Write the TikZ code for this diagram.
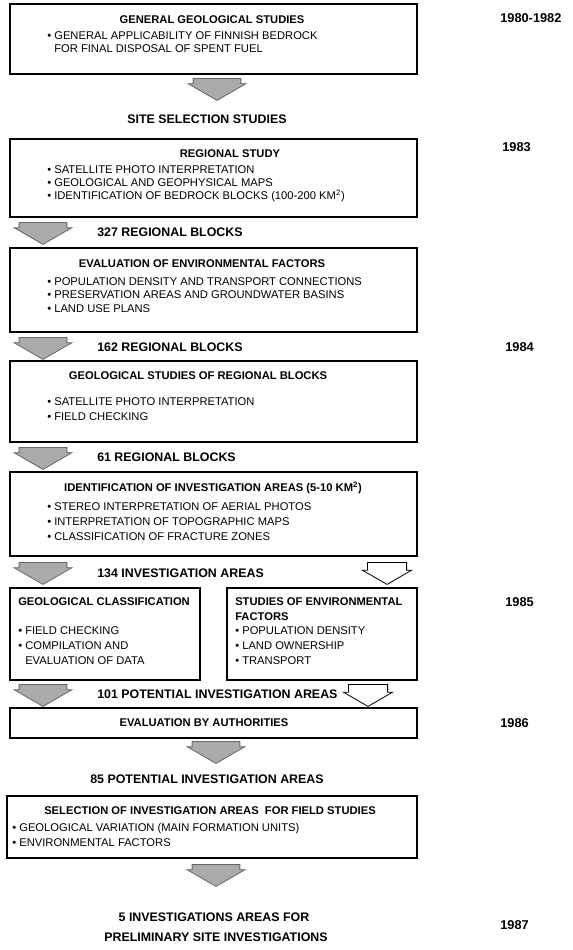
\documentclass[tikz,border=0pt]{standalone}
\usepackage{fontspec}
\setmainfont{Liberation Sans}
\usetikzlibrary{shapes.arrows,fit}

\begin{document}
\begin{tikzpicture}[
    x=0.75pt, y=-0.75pt,
    panel/.style={draw=black, line width=0.9pt, inner sep=0pt},
    ttl/.style={inner sep=0pt, font=\fontsize{8.4}{10}\selectfont\bfseries},
    item/.style={inner sep=0pt, anchor=west, font=\fontsize{8.4}{10}\selectfont},
    lbl/.style={inner sep=0pt, anchor=west, font=\fontsize{9.3}{11}\selectfont\bfseries},
    yr/.style={inner sep=0pt, anchor=west, font=\fontsize{9.6}{11}\selectfont\bfseries},
    blkarrow/.style={single arrow, rotate=-90, anchor=tail, inner xsep=0pt, inner ysep=17.6pt,
        line width=0.6pt, minimum width=42.75pt, minimum height=16.5pt,
        single arrow head extend=3.75pt, single arrow tip angle=120},
    fillarrow/.style={blkarrow, draw=black!60, fill=black!33},
    openarrow/.style={blkarrow, draw=black, fill=white, inner ysep=14.4pt, minimum width=36.3pt},
  ]
    \useasboundingbox (0,0) rectangle (572,950);

    % general studies
    \node[panel, fit={(10,4) (417,74)}] (b1) {};
    \node[ttl] (t1) at (212,20) {GENERAL GEOLOGICAL STUDIES};
    \node[item] (i1-1) at (47,36) {• GENERAL APPLICABILITY OF FINNISH BEDROCK};
    \node[item] (i1-2) at (54,49) {FOR FINAL DISPOSAL OF SPENT FUEL};
    \node[yr] (y1) at (500,18) {1980-1982};
    \node[fillarrow] (a1) at (217,78) {};
    \node[lbl, anchor=center] (sss) at (207,119) {SITE SELECTION STUDIES};

    % regional study
    \node[panel, fit={(10,139) (417,217)}] (b2) {};
    \node[ttl] (t2) at (230,154) {REGIONAL STUDY};
    \foreach \txt [count=\k] in {SATELLITE PHOTO INTERPRETATION, GEOLOGICAL AND GEOPHYSICAL MAPS,
        {IDENTIFICATION OF BEDROCK BLOCKS (100-200 KM\textsuperscript{2})}}
      \node[item] (i2-\k) at (47,157+13*\k) {• \txt};
    \node[yr] (y2) at (502,147) {1983};
    \node[fillarrow] (a327) at (43,222) {};
    \node[lbl] (l327) at (97,232) {327 REGIONAL BLOCKS};

    % environmental factors
    \node[panel, fit={(10,248) (417,332)}] (b3) {};
    \node[ttl] (t3) at (202,264) {EVALUATION OF ENVIRONMENTAL FACTORS};
    \foreach \txt [count=\k] in {POPULATION DENSITY AND TRANSPORT CONNECTIONS,
        PRESERVATION AREAS AND GROUNDWATER BASINS, LAND USE PLANS}
      \node[item] (i3-\k) at (47,268+13.5*\k) {• \txt};
    \node[fillarrow] (a162) at (43,337) {};
    \node[lbl] (l162) at (97,347) {162 REGIONAL BLOCKS};
    \node[yr] (y3) at (505,347) {1984};

    % regional blocks
    \node[panel, fit={(10,361) (417,442)}] (b4) {};
    \node[ttl] (t4) at (198,376) {GEOLOGICAL STUDIES OF REGIONAL BLOCKS};
    \foreach \txt [count=\k] in {SATELLITE PHOTO INTERPRETATION, FIELD CHECKING}
      \node[item] (i4-\k) at (47,387+15*\k) {• \txt};
    \node[fillarrow] (a61) at (43,447) {};
    \node[lbl] (l61) at (97,457) {61 REGIONAL BLOCKS};

    % investigation areas
    \node[panel, fit={(10,472) (417,556)}] (b5) {};
    \node[ttl] (t5) at (213,488) {IDENTIFICATION OF INVESTIGATION AREAS (5-10 KM\textsuperscript{2})};
    \foreach \txt [count=\k] in {STEREO INTERPRETATION OF AERIAL PHOTOS,
        INTERPRETATION OF TOPOGRAPHIC MAPS, CLASSIFICATION OF FRACTURE ZONES}
      \node[item] (i5-\k) at (47,492+15*\k) {• \txt};
    \node[fillarrow] (a134) at (43,562) {};
    \node[openarrow] (o134) at (387,562) {};
    \node[lbl] (l134) at (97,573) {134 INVESTIGATION AREAS};

    % two parallel studies
    \node[panel, fit={(10,588) (200,680)}] (b6) {};
    \node[ttl, anchor=west] (t6) at (18,602) {GEOLOGICAL CLASSIFICATION};
    \node[item] (i6-1) at (18,631) {• FIELD CHECKING};
    \node[item] (i6-2) at (18,646) {• COMPILATION AND};
    \node[item] (i6-3) at (25,661) {EVALUATION OF DATA};
    \node[panel, fit={(227,588) (417,680)}] (b7) {};
    \node[ttl, anchor=west] (t7a) at (235,602) {STUDIES OF ENVIRONMENTAL};
    \node[ttl, anchor=west] (t7b) at (235,617) {FACTORS};
    \foreach \txt [count=\k] in {POPULATION DENSITY, LAND OWNERSHIP, TRANSPORT}
      \node[item] (i7-\k) at (235,616+15*\k) {• \txt};
    \node[yr] (y4) at (505,602) {1985};
    \node[fillarrow] (a101) at (43,684) {};
    \node[openarrow] (o101) at (368,684) {};
    \node[lbl] (l101) at (97,694) {101 POTENTIAL INVESTIGATION AREAS};

    % authorities
    \node[panel, fit={(10,708) (417,738)}] (b8) {};
    \node[ttl] (t8) at (204,723) {EVALUATION BY AUTHORITIES};
    \node[yr] (y5) at (500,723) {1986};
    \node[fillarrow] (a85) at (216,741) {};
    \node[lbl, anchor=center] (l85) at (207,779) {85 POTENTIAL INVESTIGATION AREAS};

    % field studies
    \node[panel, fit={(7,796) (417,858)}] (b9) {};
    \node[ttl] (t9) at (210,811) {SELECTION OF INVESTIGATION AREAS\ \ FOR FIELD STUDIES};
    \node[item] (i9-1) at (12,829) {• GEOLOGICAL VARIATION (MAIN FORMATION UNITS)};
    \node[item] (i9-2) at (12,843) {• ENVIRONMENTAL FACTORS};
    \node[fillarrow] (a5) at (216,864) {};
    \node[lbl, anchor=center] (l5a) at (214,917) {5 INVESTIGATIONS AREAS FOR};
    \node[lbl, anchor=center] (l5b) at (216,937) {PRELIMINARY SITE INVESTIGATIONS};
    \node[yr] (y6) at (500,925) {1987};
\end{tikzpicture}
\end{document}
